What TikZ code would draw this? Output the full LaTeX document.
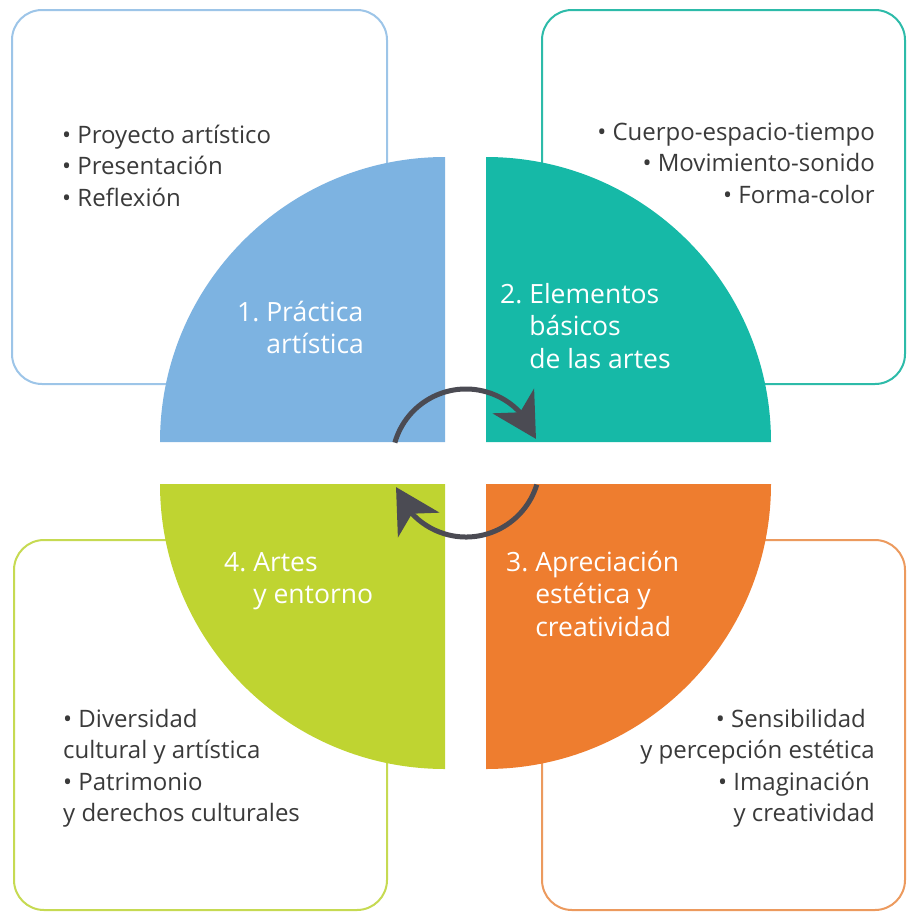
\documentclass[tikz,border=0pt]{standalone}
\usepackage{fontspec}
\setmainfont{Open Sans}
\usetikzlibrary{arrows.meta,bending}
\definecolor{bluefill}{HTML}{7DB3E1}
\definecolor{tealfill}{HTML}{16B9A7}
\definecolor{orangefill}{HTML}{EE7D2F}
\definecolor{greenfill}{HTML}{BFD431}
\definecolor{blueline}{HTML}{9DC5E8}
\definecolor{tealline}{HTML}{2DBBA9}
\definecolor{orangeline}{HTML}{EC9A5E}
\definecolor{greenline}{HTML}{C6DA52}
\definecolor{arrowgray}{HTML}{4B4B53}
\definecolor{textgray}{HTML}{3A3A3A}
\newcommand*{\itemstack}[2]{\begin{tabular}[t]{@{}#1@{}}#2\end{tabular}}
\newcommand*{\qlabel}[2]{#1\ \itemstack{l}{#2}}

\begin{document}
\begin{tikzpicture}[x=1pt,y=-1pt,
  box/.style={draw,line width=2pt,rounded corners=30pt,fill=white},
  listtext/.style={font=\fontsize{24}{31.5}\selectfont,text=textgray,inner sep=0pt},
  quartertext/.style={font=\fontsize{26.5}{32.5}\selectfont,text=white,inner sep=0pt,anchor=base west},
  cyclearrow/.style={draw=arrowgray,line width=5pt,-{Stealth[length=44pt,width=48pt,inset=13pt]}}]
\useasboundingbox (0,0) rectangle (907,913);

% Draw the four outer boxes
\draw[box,draw=blueline] (12,10) rectangle (387,384);
\draw[box,draw=tealline] (542,10) rectangle (905,384);
\draw[box,draw=greenline] (14,540) rectangle (387,910);
\draw[box,draw=orangeline] (542,540) rectangle (905,910);

% Draw the four quarter discs
\fill[bluefill] (445,442) coordinate (c1) -- ++(-285,0) arc[start angle=180,end angle=270,radius=285] -- cycle;
\fill[tealfill] (486,442) coordinate (c2) -- ++(0,-285) arc[start angle=270,end angle=360,radius=285] -- cycle;
\fill[orangefill] (486,484) coordinate (c3) -- ++(285,0) arc[start angle=0,end angle=90,radius=285] -- cycle;
\fill[greenfill] (445,484) coordinate (c4) -- ++(0,285) arc[start angle=90,end angle=180,radius=285] -- cycle;

% Labels of the quarters
\node[quartertext] (practica) at (237,321) {\qlabel{1.}{Práctica\\artística}};
\node[quartertext] (elementos) at (500,303) {\qlabel{2.}{Elementos\\básicos\\de las artes}};
\node[quartertext] (apreciacion) at (506,571) {\qlabel{3.}{Apreciación\\estética y\\creatividad}};
\node[quartertext] (artes) at (224,571) {\qlabel{4.}{Artes\\y entorno}};

% Lists in the boxes
\node[listtext,anchor=base west] (listone) at (62,143) {\itemstack{l}{• Proyecto artístico\\• Presentación\\• Reflexión}};
\node[listtext,anchor=base east] (listtwo) at (875,140) {\itemstack{r}{• Cuerpo-espacio-tiempo\\• Movimiento-sonido\\• Forma-color}};
\node[listtext,anchor=base east] (listthree) at (875,727) {\itemstack{r}{• Sensibilidad\kern9pt\\y percepción estética\\• Imaginación\kern5pt\\y creatividad}};
\node[listtext,anchor=base west] (listfour) at (63,727) {\itemstack{l}{• Diversidad\\cultural y artística\\• Patrimonio\\y derechos culturales}};

% Cycle arrows in the middle
\coordinate (m) at (466,463);
\draw[cyclearrow] (m) ++(196:74) arc[start angle=196,end angle=341,radius=74];
\draw[cyclearrow] (m) ++(17:74) arc[start angle=17,end angle=161,radius=74];
\end{tikzpicture}
\end{document}
